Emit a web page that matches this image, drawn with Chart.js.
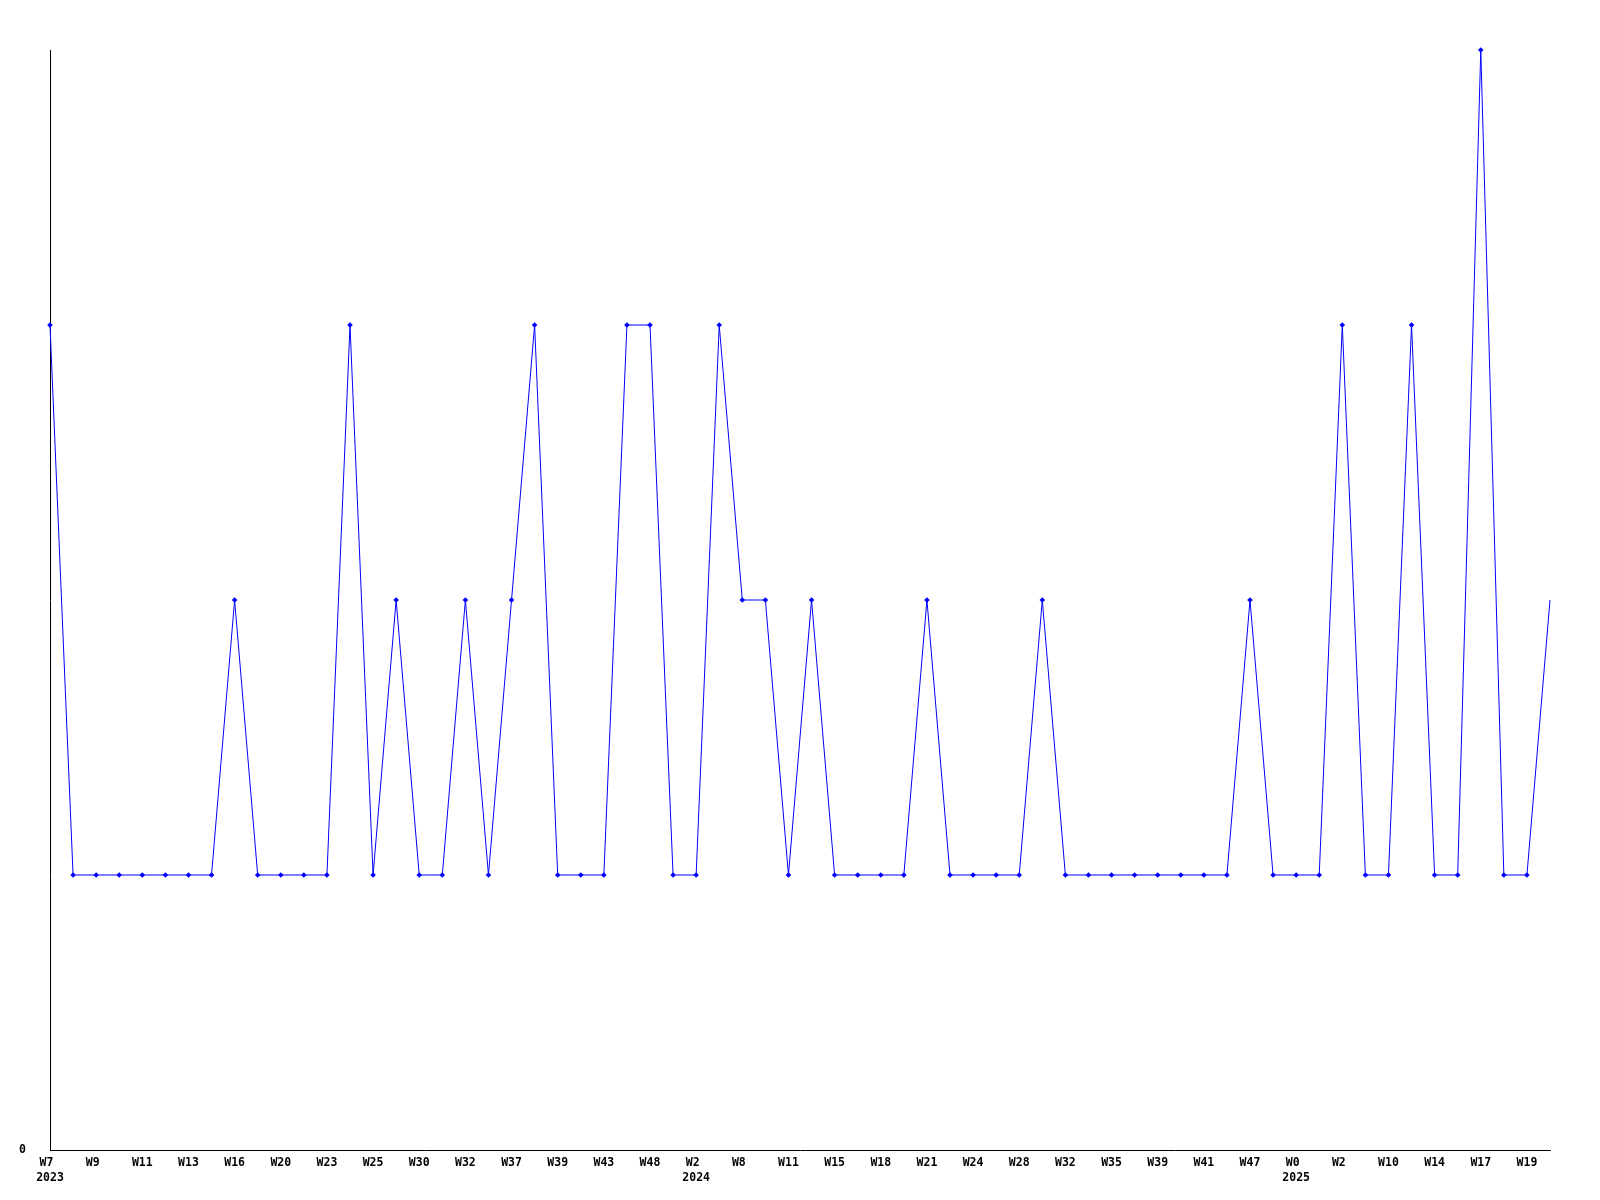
<!DOCTYPE html>
<html>
<head>
<meta charset="utf-8">
<script src="https://cdn.jsdelivr.net/npm/chart.js@4.4.1/dist/chart.umd.min.js"></script>
<style>
  html, body { margin: 0; padding: 0; background: #fff; }
  #wrap { width: 1600px; height: 1200px; }
</style>
</head>
<body>
<div id="wrap"><canvas id="weekly" width="1600" height="1200"></canvas></div>
<script>
(function () {
    // labels shown under every second point
    const tickLabels = ['W7', 'W9', 'W11', 'W13', 'W16', 'W20', 'W23', 'W25', 'W30', 'W32', 'W37',
        'W39', 'W43', 'W48', 'W2', 'W8', 'W11', 'W15', 'W18', 'W21', 'W24', 'W28', 'W32', 'W35',
        'W39', 'W41', 'W47', 'W0', 'W2', 'W10', 'W14', 'W17', 'W19'];
    // year shown under the first label of each year (index into tickLabels)
    const yearStarts = { 0: '2023', 14: '2024', 27: '2025' };

    const values = [3, 1, 1, 1, 1, 1, 1, 1, 2, 1, 1, 1, 1, 3, 1, 2, 1, 1, 2, 1, 2, 3,
        1, 1, 1, 3, 3, 1, 1, 3, 2, 2, 1, 2, 1, 1, 1, 1, 2, 1, 1, 1, 1, 2,
        1, 1, 1, 1, 1, 1, 1, 1, 2, 1, 1, 1, 3, 1, 1, 3, 1, 1, 4, 1, 1, 2];

    const yMin = 0;
    const yMax = 4;

    // one category per point, every other one labelled
    const categories = values.map((v, i) => {
        if (i % 2) return '';
        const k = i / 2;
        const w = tickLabels[k].padEnd(3, ' ');
        return yearStarts[k] ? [w, yearStarts[k]] : w;
    });

    // last point sits on the right edge with no marker
    const radii = values.map((v, i) => i === values.length - 1 ? 0 : 2.8);

    const font = { family: '"DejaVu Sans Mono", monospace', size: 11.5, weight: 'bold', lineHeight: 1.33 };

    new Chart(document.getElementById('weekly'), {
        type: 'line',
        data: {
            labels: categories,
            datasets: [{
                data: values,
                borderColor: '#0000ff',
                backgroundColor: '#0000ff',
                borderWidth: 1,
                tension: 0,
                pointStyle: 'rectRot',
                pointRadius: radii,
                pointBorderWidth: 0,
                pointHoverRadius: radii,
                clip: false
            }]
        },
        options: {
            responsive: false,
            animation: false,
            devicePixelRatio: 1,
            layout: { padding: { top: 50, right: 50, left: 0, bottom: 0 } },
            plugins: { legend: { display: false }, tooltip: { enabled: false } },
            scales: {
                x: {
                    type: 'category',
                    offset: false,
                    grid: { display: false, drawTicks: false },
                    border: { display: true, color: '#000', width: 1 },
                    ticks: { autoSkip: false, maxRotation: 0, minRotation: 0, padding: 5, color: '#000', font },
                    afterFit: (s) => { s.height = 50; }
                },
                y: {
                    min: yMin,
                    max: yMax,
                    grid: { display: false, drawTicks: false },
                    border: { display: true, color: '#000', width: 1 },
                    ticks: { padding: 24, color: '#000', font },
                    afterBuildTicks: (s) => { s.ticks = [{ value: yMin }]; },
                    afterFit: (s) => { s.width = 50; }
                }
            }
        }
    });
})();
</script>
</body>
</html>
